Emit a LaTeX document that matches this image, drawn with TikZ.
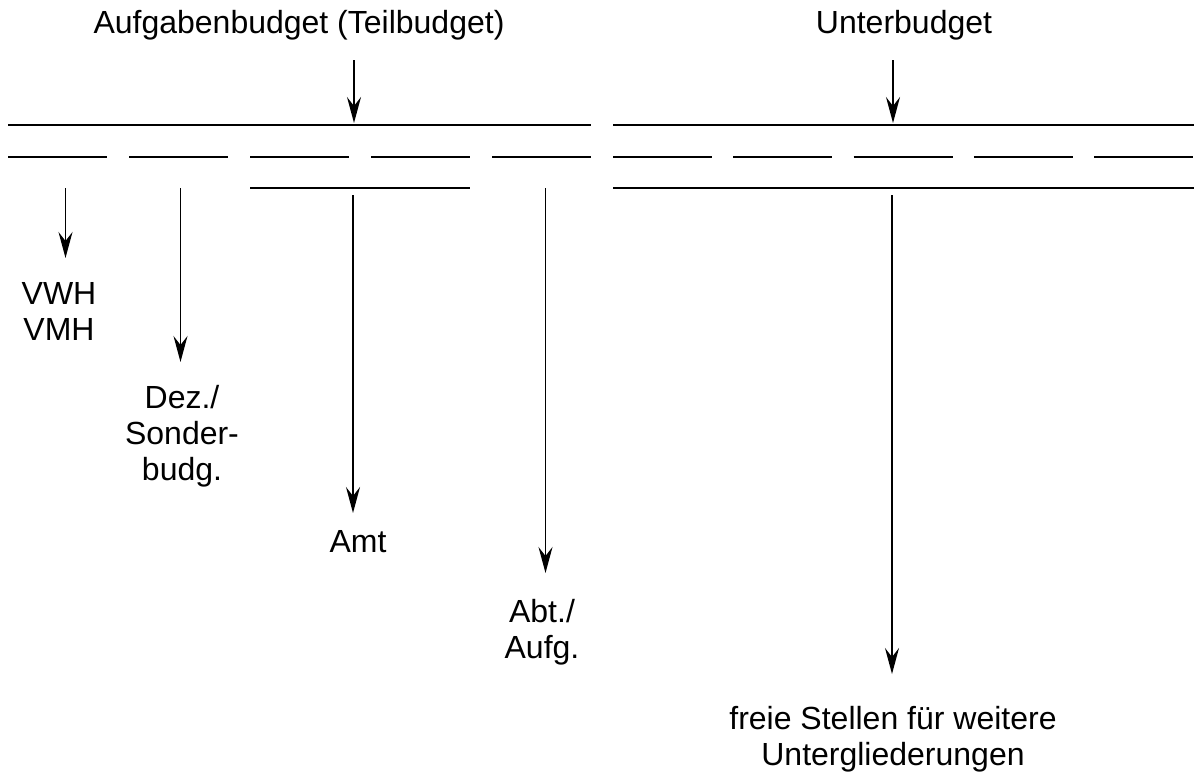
\documentclass[tikz,border=0pt]{standalone}
\usepackage{fontspec}
\setmainfont{Liberation Sans}
\usetikzlibrary{arrows.meta}
\begin{document}
\begin{tikzpicture}[x=1pt,y=-1pt,
  bar/.style={line width=2.2pt},
  conn/.style={line width=1.6pt,-{Stealth[length=26pt,width=14pt,inset=9pt]}},
  lbl/.style={font=\fontsize{32}{36}\selectfont,align=center,inner sep=0pt,anchor=north},
  ttl/.style={font=\fontsize{32}{36}\selectfont,inner sep=0pt,anchor=base}]
\useasboundingbox (0,0) rectangle (1199,774);
% titles
\node[ttl] (tA) at (299,33) {Aufgabenbudget (Teilbudget)};
\node[ttl] (tU) at (904,33) {Unterbudget};
% top lines
\draw[bar] (8,125) -- (591,125);
\draw[bar] (613,125) -- (1194,125);
% segment row
\foreach \i in {0,...,4}{
  \draw[bar] ({8+121*\i},157) -- ({107+121*\i},157);
  \draw[bar] ({613+120.25*\i},157) -- ({712+120.25*\i},157);
}
% third row
\draw[bar] (250,188) -- (470,188);
\draw[bar] (613,188) -- (1194,188);
% connector end points
\coordinate (a1s) at (354,60);  \coordinate (a1e) at (354,123);
\coordinate (a2s) at (893,60);  \coordinate (a2e) at (893,123);
\coordinate (b1s) at (65.5,188); \coordinate (b1e) at (65.5,258);
\coordinate (b2s) at (180.5,188); \coordinate (b2e) at (180.5,362);
\coordinate (b3s) at (353,195); \coordinate (b3e) at (353,513);
\coordinate (b4s) at (545.5,188); \coordinate (b4e) at (545.5,573);
\coordinate (b5s) at (892,195); \coordinate (b5e) at (892,674);
% labels
\node[lbl] (vwh) at (59,282) {VWH\\VMH};
\node[lbl] (dez) at (182,385) {Dez./\\Sonder-\\budg.};
\node[lbl] (amt) at (358,530) {Amt};
\node[lbl] (abt) at (542,599) {Abt./\\Aufg.};
\node[lbl] (frei) at (893,706) {freie Stellen für weitere\\Untergliederungen};
% arrows
\draw[conn] (a1s) -- (a1e);
\draw[conn] (a2s) -- (a2e);
\draw[conn] (b1s) -- (b1e);
\draw[conn] (b2s) -- (b2e);
\draw[conn] (b3s) -- (b3e);
\draw[conn] (b4s) -- (b4e);
\draw[conn] (b5s) -- (b5e);
\end{tikzpicture}
\end{document}
